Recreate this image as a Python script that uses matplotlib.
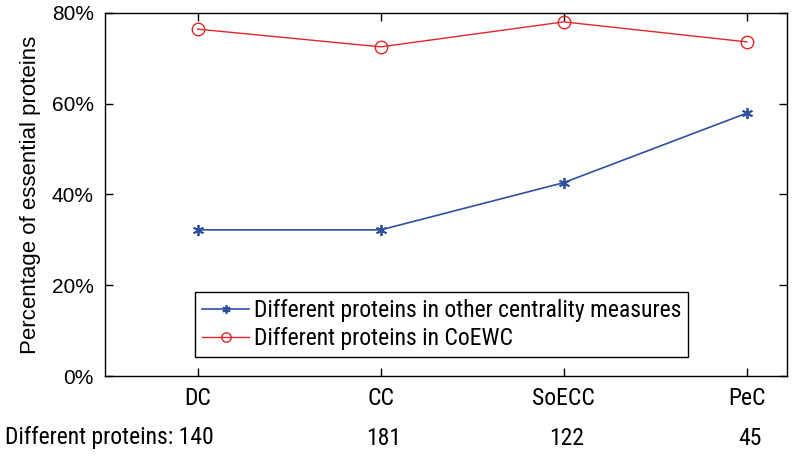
import matplotlib.pyplot as plt
import numpy as np

# values
methods = ['DC', 'CC', 'SoECC', 'PeC']
other_measures = [32.2, 32.2, 42.6, 57.9]
coewc = [76.4, 72.5, 78.0, 73.6]
diff_counts = [140, 181, 122, 45]

narrow = ['Liberation Sans Narrow', 'Roboto Condensed', 'Arial Narrow', 'Liberation Sans']
plt.rcParams['font.family'] = ['Liberation Sans', 'DejaVu Sans']

fig = plt.figure(figsize=(7.94, 4.57), dpi=100)
ax = fig.add_axes([0.132, 0.177, 0.859, 0.795])

x = np.arange(1, len(methods) + 1)
ax.plot(x, other_measures, color='#2f4f9f', marker=(6, 2, 0), markersize=8,
        markeredgewidth=1.3, linewidth=1.2,
        label='Different proteins in other centrality measures')
ax.plot(x, coewc, color='#e0262a', marker='o', markersize=9, markerfacecolor='none',
        linewidth=1.0, label='Different proteins in CoEWC')

ax.set_xlim(0.492, 4.219)
ax.set_ylim(0, 80)
ax.set_xticks(x)
ax.set_xticklabels(methods, fontsize=17, family=narrow)
ax.set_yticks([0, 20, 40, 60, 80])
ax.set_yticklabels(['0%', '20%', '40%', '60%', '80%'], fontsize=15)
ax.tick_params(direction='in', top=True, right=True, length=6, width=1, pad=8)
for s in ax.spines.values():
    s.set_linewidth(1.0)
ax.set_ylabel('Percentage of essential proteins', fontsize=16, labelpad=8)

leg = ax.legend(loc='lower left', bbox_to_anchor=(0.132, 0.052), fancybox=False,
                edgecolor='black', framealpha=1, borderaxespad=0,
                prop={'family': narrow, 'size': 17}, handlelength=2.0,
                handletextpad=0.2, labelspacing=0.2, borderpad=0.3, markerscale=0.75)
leg.get_frame().set_linewidth(1.0)

# counts under each method; the first one shares a line with the caption
fig.text(0.006, 0.042, 'Different proteins: %d' % diff_counts[0], fontsize=17,
         family=narrow, va='center')
for xi, n in zip(x[1:], diff_counts[1:]):
    ax.annotate(str(n), xy=(xi, 0), xycoords=('data', 'axes fraction'),
                xytext=(3, -62), textcoords='offset pixels', ha='center', va='center',
                fontsize=17, family=narrow)

fig.savefig('out.png', dpi=100)
